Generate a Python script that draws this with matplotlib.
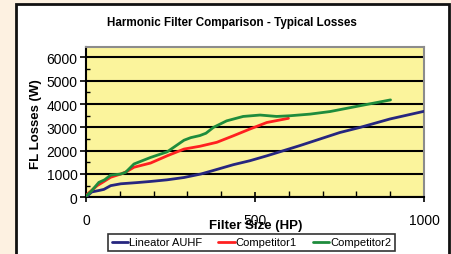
import matplotlib
matplotlib.use("Agg")
import matplotlib.pyplot as plt
from matplotlib.patches import Rectangle
from matplotlib.ticker import MultipleLocator

plt.rcParams['font.family'] = ['Liberation Sans', 'DejaVu Sans']

title = "Harmonic Filter Comparison - Typical Losses"
xlabel = "Filter Size (HP)"
ylabel = "FL Losses (W)"
series_names = ["Lineator AUHF", "Competitor1", "Competitor2"]

blue_x = [0, 17, 41, 53, 73, 103, 150, 191, 240, 290, 340, 374, 436, 485, 535, 584, 633, 692, 751, 811, 899, 1000]
blue_y = [0, 230, 300, 340, 500, 580, 630, 680, 750, 850, 1000, 1140, 1400, 1570, 1780, 2000, 2220, 2500, 2780, 3000, 3360, 3690]

red_x = [0, 4, 33, 50, 73, 103, 120, 142, 191, 240, 290, 337, 387, 436, 485, 535, 599]
red_y = [50, 140, 500, 650, 860, 1000, 1100, 1290, 1470, 1780, 2070, 2190, 2360, 2640, 2930, 3210, 3390]

green_x = [0, 15, 38, 55, 73, 103, 117, 142, 191, 240, 290, 310, 337, 355, 377, 416, 465, 515, 564, 604, 663, 722, 811, 901]
green_y = [50, 250, 640, 750, 950, 1000, 1070, 1430, 1710, 1950, 2450, 2560, 2650, 2750, 3000, 3280, 3470, 3530, 3470, 3500, 3570, 3680, 3930, 4180]

colors = ["#26267F", "#FF2020", "#1E8C3C"]

W, H = 452, 255
fig = plt.figure(figsize=(W / 100, H / 100), dpi=100)
fig.patch.set_facecolor("#FDF1E1")

panel = Rectangle((16 / W, -0.05), (449 - 16) / W, (H - 5) / H + 0.05,
                  transform=fig.transFigure, facecolor="white",
                  edgecolor="#111111", linewidth=2.0, zorder=-10)
fig.patches.append(panel)

ax = fig.add_axes([86 / W, (H - 198.3) / H, (424 - 86) / W, (198.3 - 48) / H])
ax.set_zorder(1)
ax.set_facecolor("#FBF49C")
ax.set_xlim(0, 1000)
ax.set_ylim(0, 6450)

for xs, ys, c, n in zip([blue_x, red_x, green_x], [blue_y, red_y, green_y], colors, series_names):
    ax.plot(xs, ys, color=c, lw=2.0, label=n, solid_capstyle='round', zorder=3)

ax.yaxis.set_major_locator(MultipleLocator(1000))
ax.yaxis.set_minor_locator(MultipleLocator(500))
ax.xaxis.set_major_locator(MultipleLocator(500))
ax.xaxis.set_minor_locator(MultipleLocator(100))
ax.set_yticks([0, 1000, 2000, 3000, 4000, 5000, 6000])
ax.grid(axis='y', which='major', color='black', lw=1.5, zorder=1)
ax.set_axisbelow(True)

ax.tick_params(axis='y', which='major', direction='out', length=4, width=1.2, pad=2, labelsize=10)
ax.tick_params(axis='y', which='minor', direction='in', length=3, width=1.0)
ax.tick_params(axis='x', which='major', direction='inout', length=7, width=1.2, pad=8, labelsize=10)
ax.tick_params(axis='x', which='minor', direction='in', length=4, width=1.0)

for s in ['left', 'bottom']:
    ax.spines[s].set_color('black')
    ax.spines[s].set_linewidth(1.5)
for s in ['top', 'right']:
    ax.spines[s].set_color('#8C8C8C')
    ax.spines[s].set_linewidth(1.5)

fig.text(232 / W, 1 - 23 / H, title, ha='center', va='center', fontsize=8.4, fontweight='bold')
fig.text(36 / W, 1 - 124 / H, ylabel, ha='center', va='center', rotation=90, fontsize=9.5, fontweight='bold')
fig.text(256 / W, 1 - 226 / H, xlabel, ha='center', va='center', fontsize=9.5, fontweight='bold')

leg = fig.legend(loc='center', bbox_to_anchor=(251.5 / W, 1 - 243.5 / H), ncol=3, fontsize=8,
                 frameon=True, fancybox=False, edgecolor='black', handlelength=1.5,
                 handletextpad=0.1, columnspacing=1.4, borderpad=0.35, borderaxespad=0)
leg.get_frame().set_linewidth(1.2)

fig.savefig("out.png", dpi=100, facecolor=fig.get_facecolor())
